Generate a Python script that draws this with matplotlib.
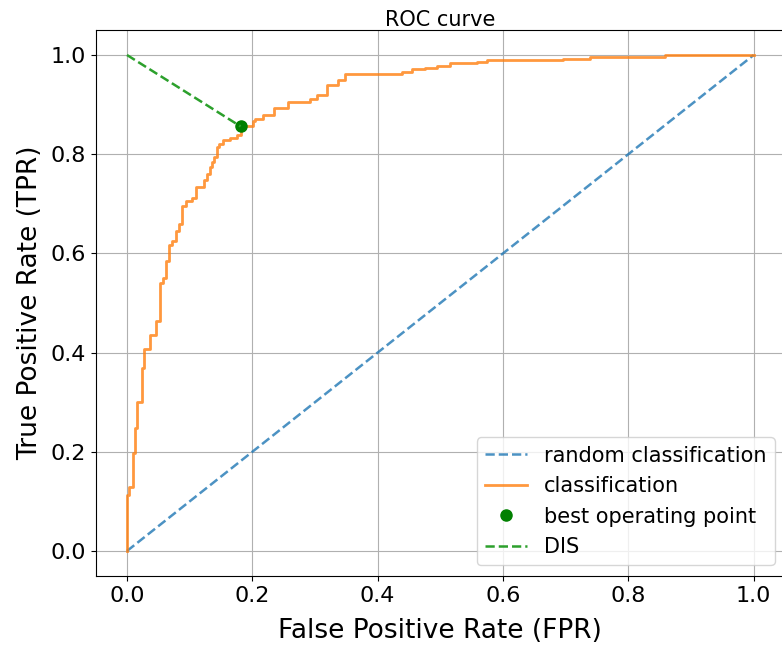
#!/usr/bin/env python3
import numpy as np
import matplotlib
matplotlib.use('Agg')
import matplotlib.pyplot as plt

# ------------------------- ROC corner points (steps) ------------------------- #
fpr = [0.0, 0.0, 0.0037, 0.0091, 0.0128, 0.0155, 0.0244, 0.0276, 0.0367,
       0.0458, 0.0526, 0.0579, 0.0617, 0.0670, 0.0713, 0.0777, 0.0829,
       0.0882, 0.0936, 0.1041, 0.1096, 0.1228, 0.1271, 0.1324, 0.1360,
       0.1392, 0.1431, 0.1467, 0.1536, 0.1643, 0.1750, 0.1813, 0.2014,
       0.2041, 0.2174, 0.2349, 0.2573, 0.2919, 0.3026, 0.3185, 0.3370,
       0.3477, 0.4381, 0.4541, 0.4753, 0.4939, 0.5152, 0.5577, 0.5737,
       0.6959, 0.7384, 0.8581, 1.0]
tpr = [0.0, 0.113, 0.130, 0.198, 0.248, 0.301, 0.368, 0.407, 0.435,
       0.464, 0.540, 0.550, 0.585, 0.617, 0.625, 0.645, 0.659,
       0.696, 0.706, 0.712, 0.733, 0.748, 0.760, 0.775, 0.785,
       0.795, 0.815, 0.821, 0.829, 0.832, 0.839, 0.856, 0.866,
       0.871, 0.879, 0.8925, 0.906, 0.911, 0.919, 0.9395, 0.9496,
       0.9617, 0.966, 0.971, 0.974, 0.978, 0.983, 0.9865, 0.990,
       0.992, 0.9966, 1.0, 1.0]

best_fpr, best_tpr = 0.1813, 0.856
chance = [0.0, 1.0]

# ---------------------------- create the figure ----------------------------- #
fig = plt.figure(figsize=(7.82, 6.45), dpi=100)
ax = fig.add_axes([0.1223, 0.1073, 0.8816, 0.8459])

ax.plot(chance, chance, '--', color='tab:blue', alpha=0.8, lw=1.8,
        label='random classification')
ax.plot(fpr, tpr, color='tab:orange', alpha=0.8, lw=2,
        drawstyle='steps-post', label='classification')
ax.plot(best_fpr, best_tpr, 'o', color='green', ms=8,
        label='best operating point')
ax.plot([0, best_fpr], [1, best_tpr], '--', color='tab:green', lw=1.8,
        label='DIS')

# ---------------------------- titles & misc --------------------------------- #
ax.set_xlim(-0.05, 1.05)
ax.set_ylim(-0.05, 1.05)
ax.set_xticks(np.arange(0, 1.01, 0.2))
ax.set_yticks(np.arange(0, 1.01, 0.2))
ax.tick_params(labelsize=16)
ax.grid(True)
ax.set_title('ROC curve', fontsize=15, pad=3)
ax.set_xlabel('False Positive Rate (FPR)', fontsize=19, labelpad=9)
ax.set_ylabel('True Positive Rate (TPR)', fontsize=19, labelpad=5)
ax.legend(loc='lower right', fontsize=15)

fig.savefig('out.png', dpi=100)
